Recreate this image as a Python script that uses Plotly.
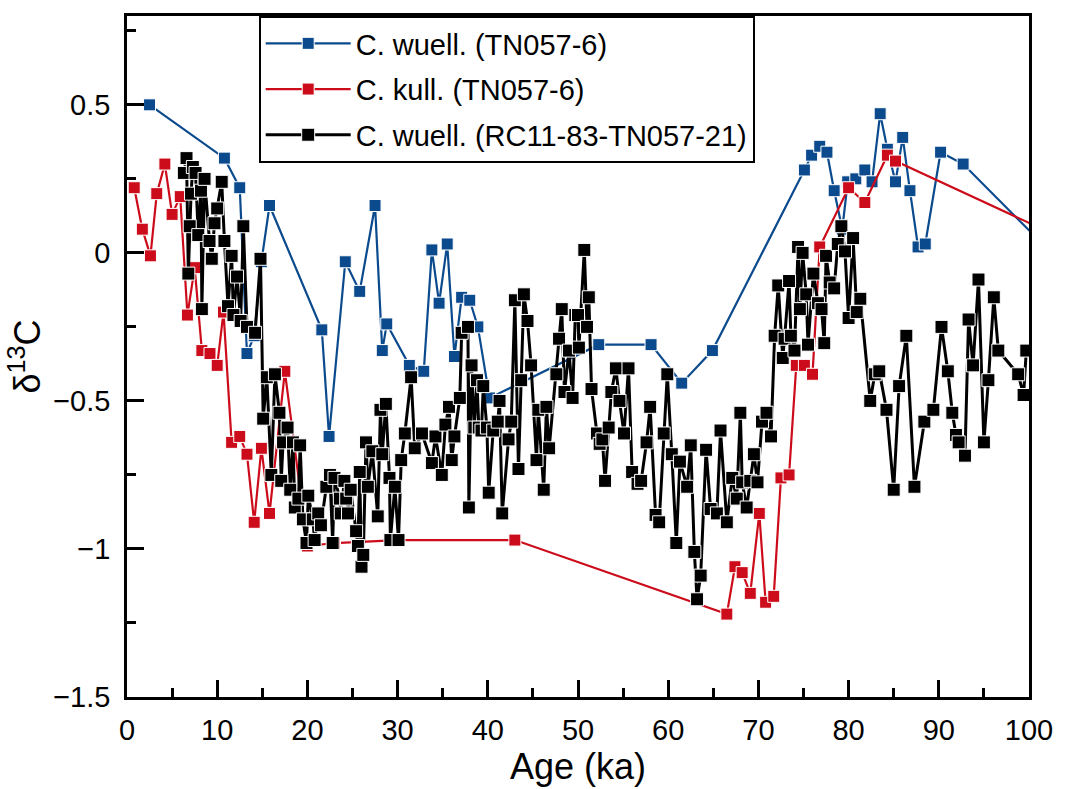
import plotly.graph_objects as go

# C. wuell. (TN057-6)
blue_age = [2.5, 10.8, 12.5, 13.3, 14.1, 14.9, 15.8, 21.6, 22.4, 24.2, 25.8, 27.5, 28.3, 28.8,
            31.3, 32.9, 33.8, 34.6, 35.5, 36.3, 37.1, 38.0, 38.9, 40.2, 52.3, 58.1, 61.5, 64.9,
            75.1, 75.9, 76.8, 77.6, 78.4, 79.3, 79.9, 80.8, 81.8, 82.6, 83.5, 84.3, 85.2, 86.0,
            86.8, 87.7, 88.5, 90.2, 92.7, 102.0]
blue_d13c = [0.50, 0.32, 0.22, -0.34, -0.28, -0.03, 0.16, -0.26, -0.62, -0.03, -0.13, 0.16, -0.33, -0.24,
             -0.38, -0.40, 0.01, -0.17, 0.03, -0.35, -0.15, -0.16, -0.25, -0.49, -0.31, -0.31, -0.44, -0.33,
             0.28, 0.33, 0.36, 0.34, 0.21, 0.08, 0.24, 0.25, 0.28, 0.24, 0.47, 0.35, 0.24, 0.39,
             0.21, 0.02, 0.03, 0.34, 0.30, 0.015]

# C. kull. (TN057-6)
red_age = [0.8, 1.7, 2.6, 3.3, 4.2, 5.0, 5.9, 6.7, 7.5, 8.3, 9.2, 10.0, 10.7, 11.6, 12.5, 13.3,
           14.1, 14.9, 15.8, 17.5, 20.0, 23.0, 30.0, 43.0, 66.5, 67.4, 68.2, 69.1, 70.1, 70.8,
           71.7, 72.5, 73.4, 74.2, 75.1, 76.0, 76.8, 80.0, 81.8, 84.3, 85.2, 104.0]
red_d13c = [0.22, 0.08, -0.01, 0.20, 0.30, 0.13, 0.19, -0.21, -0.05, -0.33, -0.34, -0.38, -0.20, -0.64, -0.62, -0.68,
            -0.91, -0.66, -0.88, -0.40, -0.99, -0.98, -0.97, -0.97, -1.22, -1.06, -1.08, -1.15, -0.88, -1.18,
            -1.16, -0.76, -0.75, -0.38, -0.38, -0.41, 0.02, 0.22, 0.17, 0.33, 0.31, 0.045]

# C. wuell. (RC11-83-TN057-21)
black_age = [6.3, 6.6, 6.8, 6.95, 7.1, 7.3, 7.6, 7.9, 8.2, 8.3, 8.6, 9.15, 9.4, 9.7, 10.0, 10.5,
             10.8, 11.2, 11.6, 11.8, 12.2, 12.6, 12.9, 13.3, 14.2, 14.8, 15.1, 15.5, 16.0, 16.4,
             16.9, 17.1, 17.3, 17.8, 18.1, 18.4, 18.6, 19.0, 19.2, 19.5, 19.9, 20.1, 20.6, 20.8,
             21.2, 21.5, 22.1, 22.5, 22.8, 23.0, 23.6, 23.7, 24.1, 24.3, 24.5, 24.8, 25.4, 25.6,
             25.8, 26.0, 26.2, 26.5, 26.7, 27.2, 27.8, 28.1, 28.3, 28.7, 29.1, 29.2, 29.7, 30.1,
             30.4, 30.8, 31.5, 31.9, 32.7, 33.8, 34.2, 34.9, 35.3, 35.7, 36.0, 36.3, 36.9, 37.1,
             37.8, 37.9, 38.2, 38.5, 38.8, 39.0, 39.3, 39.5, 39.9, 40.1, 40.6, 41.1, 41.3, 41.6,
             42.3, 42.6, 43.0, 43.4, 43.7, 44.0, 44.4, 44.8, 45.4, 45.6, 46.2, 46.5, 46.8, 47.6,
             47.9, 48.2, 48.5, 49.0, 49.4, 49.7, 50.0, 50.1, 50.7, 51.0, 51.2, 51.5, 52.1, 52.4,
             52.7, 53.0, 53.4, 53.7, 54.2, 54.6, 55.1, 55.6, 56.0, 56.6, 57.0, 57.6, 58.0, 58.6,
             59.0, 59.5, 59.9, 60.4, 60.9, 61.3, 62.1, 62.5, 62.9, 63.2, 63.6, 64.2, 64.7, 65.4,
             65.8, 66.5, 67.1, 67.6, 68.0, 68.2, 68.7, 69.1, 69.5, 69.9, 70.4, 70.9, 71.4, 71.8,
             72.2, 72.7, 72.9, 73.4, 73.6, 74.0, 74.4, 74.6, 74.9, 75.3, 75.5, 76.1, 76.6, 77.0,
             77.3, 77.5, 77.9, 78.4, 78.8, 79.2, 79.6, 80.0, 80.5, 80.9, 81.3, 82.4, 82.9, 83.4,
             84.2, 85.0, 85.6, 86.4, 87.3, 88.4, 89.4, 90.3, 91.0, 91.5, 91.9, 92.2, 92.9, 93.3,
             93.8, 94.4, 95.0, 95.5, 96.1, 96.6, 98.8, 99.4, 99.7]
black_d13c = [0.27, 0.32, -0.07, 0.09, 0.20, 0.29, 0.27, 0.06, 0.21, -0.19, 0.25, 0.04, -0.02, 0.10, 0.15, 0.24,
              0.04, -0.18, -0.01, -0.21, -0.08, -0.23, 0.09, -0.25, -0.27, -0.02, -0.56, -0.42, -0.75, -0.41,
              -0.54, -0.77, -0.64, -0.59, -0.80, -0.64, -0.86, -0.83, -0.65, -0.90, -0.98, -0.82, -0.90, -0.97,
              -0.88, -0.92, -0.79, -0.75, -0.98, -0.76, -0.83, -0.88, -0.77, -0.83, -0.88, -0.80, -0.94, -0.99,
              -0.74, -1.06, -1.02, -0.64, -0.79, -0.67, -0.89, -0.53, -0.68, -0.51, -0.76, -0.97, -0.79, -0.97,
              -0.70, -0.61, -0.42, -0.66, -0.61, -0.71, -0.62, -0.75, -0.58, -0.52, -0.70, -0.62, -0.49, -0.27,
              -0.25, -0.86, -0.38, -0.59, -0.43, -0.59, -0.60, -0.45, -0.59, -0.81, -0.60, -0.57, -0.50, -0.88,
              -0.63, -0.57, -0.16, -0.73, -0.43, -0.14, -0.23, -0.38, -0.70, -0.53, -0.80, -0.52, -0.66, -0.41,
              -0.29, -0.19, -0.47, -0.33, -0.49, -0.21, -0.21, -0.32, 0.01, -0.25, -0.15, -0.46, -0.61, -0.645,
              -0.63, -0.77, -0.59, -0.47, -0.39, -0.50, -0.61, -0.39, -0.74, -0.78, -0.77, -0.64, -0.52, -0.885,
              -0.91, -0.61, -0.41, -0.68, -0.98, -0.705, -0.79, -0.65, -1.01, -1.17, -1.09, -0.665, -0.865, -0.88,
              -0.60, -0.91, -0.76, -0.83, -0.54, -0.775, -0.86, -0.77, -0.68, -0.775, -0.57, -0.54, -0.62, -0.28,
              -0.11, -0.355, -0.29, -0.095, -0.28, -0.33, 0.02, -0.19, 0.00, -0.14, -0.31, -0.07, -0.17, -0.19,
              -0.305, -0.01, -0.10, -0.12, 0.03, 0.09, 0.005, -0.22, 0.05, -0.20, -0.155, -0.50, -0.41, -0.40,
              -0.53, -0.80, -0.45, -0.28, -0.79, -0.57, -0.53, -0.25, -0.40, -0.54, -0.615, -0.64, -0.685, -0.225,
              -0.38, -0.09, -0.64, -0.43, -0.15, -0.33, -0.41, -0.48, -0.33]

BLUE = "#0b4a8d"
RED = "#cc0c1a"
FONT = "Liberation Sans, Arial, sans-serif"

fig = go.Figure()
fig.add_trace(go.Scatter(x=blue_age, y=blue_d13c, mode="lines+markers", name="C. wuell. (TN057-6)",
                         legendgroup="a",
                         line=dict(color=BLUE, width=2.2),
                         marker=dict(symbol="square", size=12, color=BLUE, line=dict(color="white", width=1))))
fig.add_trace(go.Scatter(x=red_age, y=red_d13c, mode="lines+markers", name="C. kull. (TN057-6)",
                         legendgroup="b",
                         line=dict(color=RED, width=2.2),
                         marker=dict(symbol="square", size=12, color=RED, line=dict(color="white", width=1))))
fig.add_trace(go.Scatter(x=black_age, y=black_d13c, mode="lines+markers", name="C. wuell. (RC11-83-TN057-21)",
                         legendgroup="c",
                         line=dict(color="black", width=3),
                         marker=dict(symbol="square", size=13, color="black", line=dict(color="white", width=1))))

axis_common = dict(showline=True, linecolor="black", linewidth=2.5, mirror=True,
                   ticks="inside", ticklen=17, tickwidth=2.5, tickcolor="black",
                   showgrid=False, zeroline=False,
                   tickfont=dict(family=FONT, size=29, color="black"))

fig.update_layout(
    width=1065, height=789,
    margin=dict(l=127, r=28, t=16, b=90),
    paper_bgcolor="white", plot_bgcolor="white",
    font=dict(family=FONT, color="black"),
    xaxis=dict(range=[0, 100], dtick=10, tick0=0,
               minor=dict(ticks="inside", ticklen=9, tickwidth=2.5, tickcolor="black", dtick=5),
               ticklabelstandoff=5,
               title=dict(text="Age (ka)", font=dict(family=FONT, size=36), standoff=6),
               **axis_common),
    yaxis=dict(range=[-1.5, 0.8], dtick=0.5, tick0=0,
               minor=dict(ticks="inside", ticklen=9, tickwidth=2.5, tickcolor="black", dtick=0.25),
               ticklabelstandoff=8,
               title=dict(text="δ<sup>13</sup>C", font=dict(family=FONT, size=36), standoff=2),
               **axis_common),
    legend=dict(x=0.146, y=1.0, xanchor="left", yanchor="top",
                bgcolor="white", bordercolor="black", borderwidth=2,
                font=dict(family=FONT, size=29, color="black"),
                tracegroupgap=5, itemwidth=85),
    showlegend=True,
)

fig.write_html("out.html")
